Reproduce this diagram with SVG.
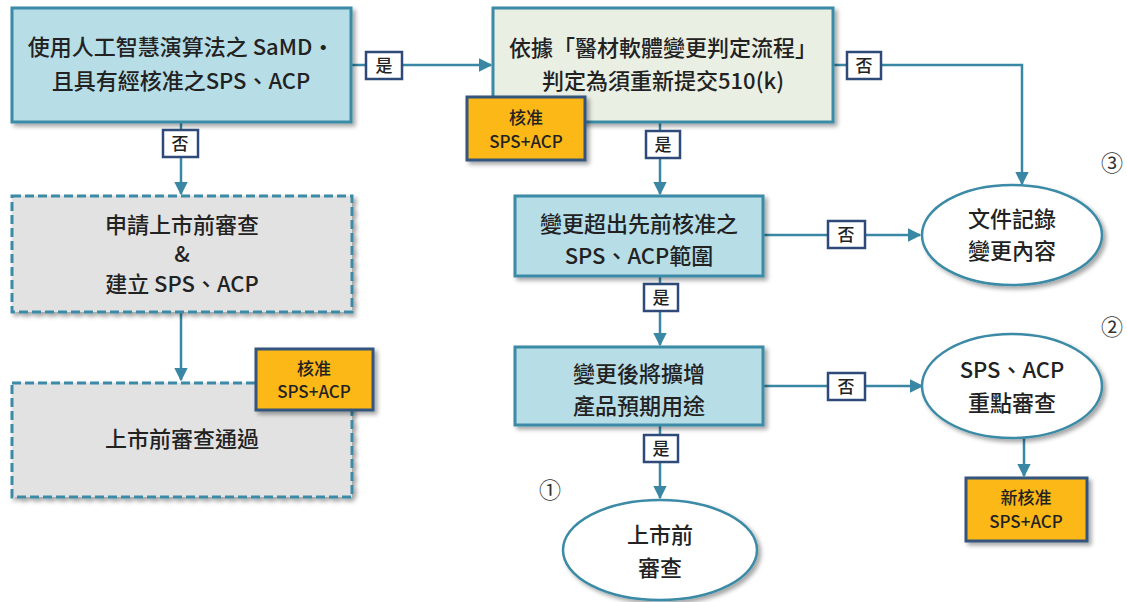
<svg xmlns="http://www.w3.org/2000/svg" width="1127" height="602" viewBox="0 0 1127 602">
<defs>
<filter id="sh" x="-10%" y="-10%" width="125%" height="130%">
<feDropShadow dx="3" dy="3" stdDeviation="2" flood-color="#000" flood-opacity="0.35"/>
</filter>
<marker id="ar" viewBox="0 0 10 10" refX="9" refY="5" markerWidth="5.5" markerHeight="5.5" orient="auto" markerUnits="strokeWidth">
<path d="M0,0 L10,5 L0,10 z" fill="#3a87a5"/>
</marker>
<style>
.t{font-family:"Noto Sans CJK TC","Noto Sans CJK SC",sans-serif;fill:#222;text-anchor:middle;font-weight:500;}
.big{font-size:22px;}
.mid{font-size:17px;}
.blue{fill:#b7dde7;stroke:#3b8aa6;stroke-width:3;}
.green{fill:#e9efe2;stroke:#3b8aa6;stroke-width:3;}
.grey{fill:#e2e2e2;stroke:#3b8aa6;stroke-width:3;stroke-dasharray:9 4;}
.ora{fill:#fbb817;stroke:#34547c;stroke-width:3;}
.ell{fill:#fff;stroke:#3b8aa6;stroke-width:2.5;}
.lab{fill:#fff;stroke:#2d4a78;stroke-width:2.5;}
.ln{fill:none;stroke:#3a87a5;stroke-width:2.5;}
.num{font-family:"Noto Sans CJK TC","DejaVu Sans",sans-serif;font-size:22px;fill:#333;text-anchor:middle;}
</style>
</defs>
<rect width="1127" height="602" fill="#fff"/>

<g id="connectors">
<line class="ln" x1="351" y1="65" x2="491" y2="65" marker-end="url(#ar)"/>
<polyline class="ln" points="833,65 1022,65 1022,184" marker-end="url(#ar)"/>
<line class="ln" x1="660" y1="122" x2="660" y2="194" marker-end="url(#ar)"/>
<line class="ln" x1="763" y1="235" x2="920" y2="235" marker-end="url(#ar)"/>
<line class="ln" x1="660" y1="276" x2="660" y2="345" marker-end="url(#ar)"/>
<line class="ln" x1="763" y1="386" x2="922" y2="386" marker-end="url(#ar)"/>
<line class="ln" x1="660" y1="425" x2="660" y2="498" marker-end="url(#ar)"/>
<line class="ln" x1="1024" y1="437" x2="1024" y2="476" marker-end="url(#ar)"/>
<line class="ln" x1="181" y1="122" x2="181" y2="194" marker-end="url(#ar)"/>
<line class="ln" x1="181" y1="312" x2="181" y2="380" marker-end="url(#ar)"/>
</g>

<g id="n1">
<rect class="blue" x="12" y="8" width="339" height="114" filter="url(#sh)"/>
<text class="t big" x="181" y="55">使用人工智慧演算法之 SaMD·</text>
<text class="t big" x="181" y="89">且具有經核准之SPS、ACP</text>
</g>

<g id="n2">
<rect class="green" x="493" y="8" width="340" height="114" filter="url(#sh)"/>
<text class="t big" x="663" y="56">依據「醫材軟體變更判定流程」</text>
<text class="t big" x="663" y="89">判定為須重新提交510(k)</text>
</g>

<g id="n2b">
<rect class="ora" x="467" y="97" width="118" height="63" filter="url(#sh)"/>
<text class="t mid" x="526" y="124">核准</text>
<text class="t mid" x="526" y="148">SPS+ACP</text>
</g>

<g id="n3">
<rect class="blue" x="515" y="196" width="248" height="80" filter="url(#sh)"/>
<text class="t big" x="639" y="232">變更超出先前核准之</text>
<text class="t big" x="639" y="264">SPS、ACP範圍</text>
</g>

<g id="n4">
<rect class="blue" x="515" y="347" width="248" height="78" filter="url(#sh)"/>
<text class="t big" x="639" y="382">變更後將擴增</text>
<text class="t big" x="639" y="414">產品預期用途</text>
</g>

<g id="e1">
<ellipse class="ell" cx="1012" cy="235" rx="90" ry="50" filter="url(#sh)"/>
<text class="t big" x="1012" y="227">文件記錄</text>
<text class="t big" x="1012" y="259">變更內容</text>
</g>

<g id="e2">
<ellipse class="ell" cx="1012" cy="386" rx="90" ry="52" filter="url(#sh)"/>
<text class="t big" x="1012" y="378">SPS、ACP</text>
<text class="t big" x="1012" y="411">重點審查</text>
</g>

<g id="n5">
<rect class="ora" x="966" y="478" width="121" height="63" filter="url(#sh)"/>
<text class="t mid" x="1026" y="504">新核准</text>
<text class="t mid" x="1026" y="528">SPS+ACP</text>
</g>

<g id="e3">
<ellipse class="ell" cx="660" cy="550" rx="97" ry="50" filter="url(#sh)"/>
<text class="t big" x="660" y="543">上市前</text>
<text class="t big" x="660" y="576">審查</text>
</g>

<g id="n6">
<rect class="grey" x="12" y="196" width="340" height="116" filter="url(#sh)"/>
<text class="t big" x="182" y="233">申請上市前審查</text>
<text class="t big" x="182" y="262">&amp;</text>
<text class="t big" x="182" y="292">建立 SPS、ACP</text>
</g>

<g id="n7">
<rect class="grey" x="12" y="383" width="340" height="114" filter="url(#sh)"/>
<text class="t big" x="182" y="447">上市前審查通過</text>
</g>

<g id="n7b">
<rect class="ora" x="256" y="349" width="117" height="61" filter="url(#sh)"/>
<text class="t mid" x="314" y="375">核准</text>
<text class="t mid" x="314" y="398">SPS+ACP</text>
</g>

<g id="labels">
<rect class="lab" x="366" y="52" width="36" height="27"/>
<text class="t mid" x="384" y="72">是</text>
<rect class="lab" x="847" y="52" width="34" height="27"/>
<text class="t mid" x="864" y="72">否</text>
<rect class="lab" x="646" y="131" width="34" height="27"/>
<text class="t mid" x="663" y="151">是</text>
<rect class="lab" x="828" y="221" width="37" height="27"/>
<text class="t mid" x="846" y="241">否</text>
<rect class="lab" x="644" y="284" width="34" height="27"/>
<text class="t mid" x="661" y="304">是</text>
<rect class="lab" x="828" y="373" width="37" height="27"/>
<text class="t mid" x="846" y="393">否</text>
<rect class="lab" x="644" y="435" width="34" height="27"/>
<text class="t mid" x="661" y="455">是</text>
<rect class="lab" x="163" y="130" width="35" height="27"/>
<text class="t mid" x="180" y="150">否</text>
</g>

<text class="num" x="1112" y="171">③</text>
<text class="num" x="1112" y="335">②</text>
<text class="num" x="550" y="498">①</text>
</svg>
